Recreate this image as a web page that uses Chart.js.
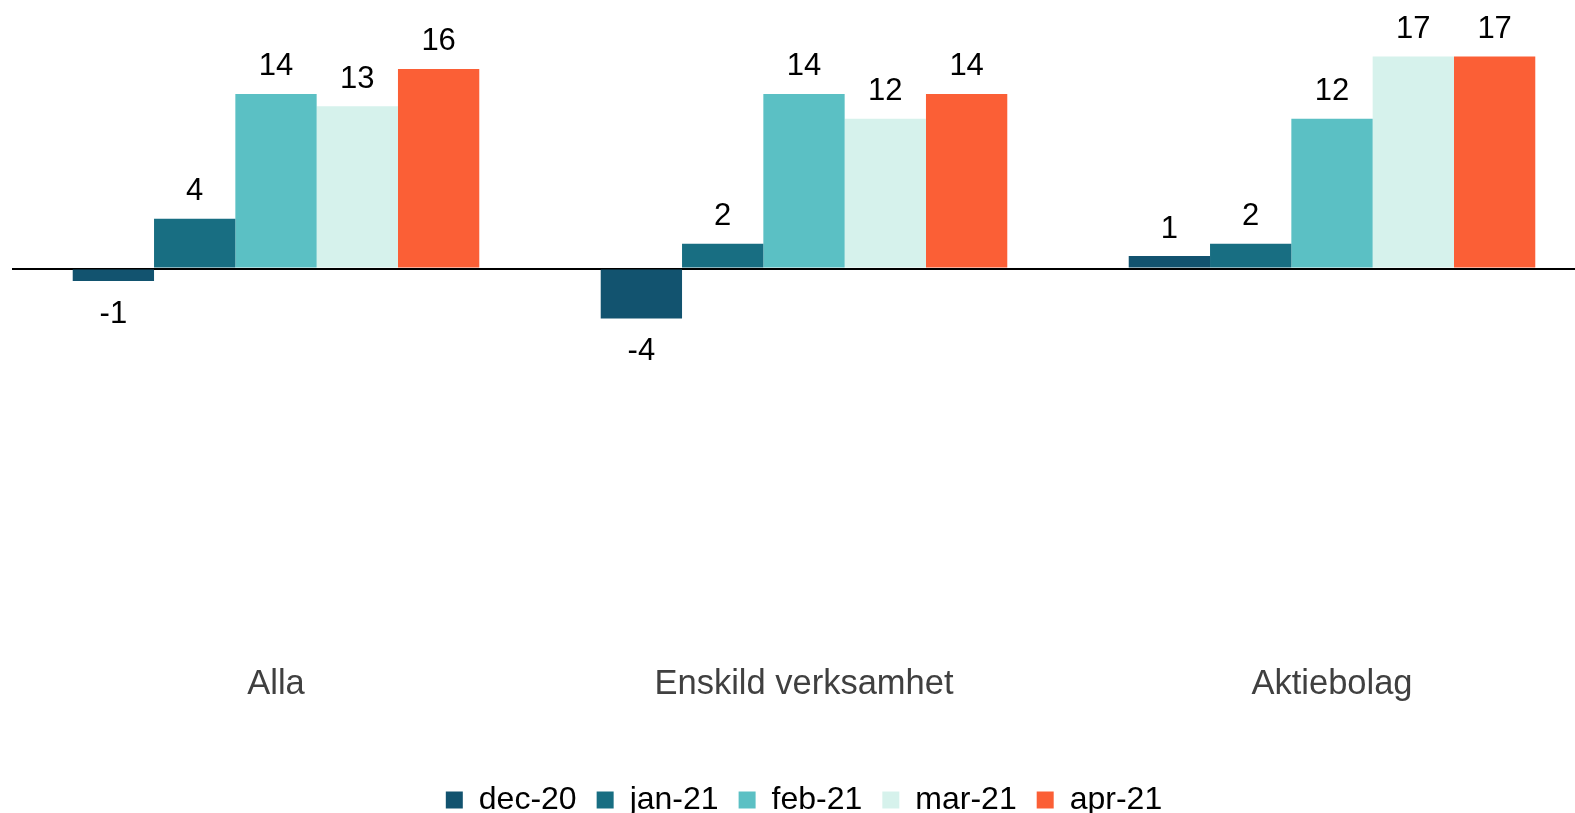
<!DOCTYPE html>
<html>
<head>
<meta charset="utf-8">
<script src="https://cdn.jsdelivr.net/npm/chart.js@4/dist/chart.umd.min.js"></script>
<style>
  html, body { margin: 0; padding: 0; background: #fff; overflow: hidden; }
  #wrap { width: 1610px; height: 826px; }
</style>
</head>
<body>
<div id="wrap"><canvas id="grafico"></canvas></div>
<script>
// kategorier och serier
const kategorier = ['Alla', 'Enskild verksamhet', 'Aktiebolag'];
const serier = ['dec-20', 'jan-21', 'feb-21', 'mar-21', 'apr-21'];
const dec20 = [-1, -4, 1];
const jan21 = [4, 2, 2];
const feb21 = [14, 14, 12];
const mar21 = [13, 12, 17];
const apr21 = [16, 14, 17];
const farger = ['#12536f', '#186e82', '#5bc0c4', '#d6f2ec', '#fb5f36'];

const varden = [dec20, jan21, feb21, mar21, apr21];
const typsnitt = '"Liberation Sans", Arial, sans-serif';

// etiketter ovanfor/under staplarna
const vardeEtiketter = {
  id: 'vardeEtiketter',
  afterDatasetsDraw(chart) {
    const ctx = chart.ctx;
    ctx.save();
    ctx.font = '31px ' + typsnitt;
    ctx.fillStyle = '#000';
    ctx.textAlign = 'center';
    ctx.textBaseline = 'middle';
    chart.data.datasets.forEach((ds, i) => {
      const meta = chart.getDatasetMeta(i);
      meta.data.forEach((bar, j) => {
        const v = ds.data[j];
        const y = v >= 0 ? bar.y - 27 : bar.y + 33;
        ctx.fillText(String(v), bar.x, y);
      });
    });
    ctx.restore();
  }
};

new Chart(document.getElementById('grafico'), {
  type: 'bar',
  data: {
    labels: kategorier,
    datasets: serier.map((namn, i) => ({
      label: namn,
      data: varden[i],
      backgroundColor: farger[i],
      borderWidth: 0,
      categoryPercentage: 0.77,
      barPercentage: 1
    }))
  },
  options: {
    responsive: true,
    maintainAspectRatio: false,
    animation: false,
    layout: { padding: { top: 19, left: 12, right: 14, bottom: 0 } },
    plugins: {
      tooltip: { enabled: false },
      legend: {
        position: 'bottom',
        labels: {
          font: { family: typsnitt, size: 32 },
          color: '#000',
          boxWidth: 17,
          boxHeight: 17,
          padding: 20
        }
      }
    },
    scales: {
      x: {
        grid: { display: false },
        border: { display: false },
        ticks: {
          font: { family: typsnitt, size: 34.5 },
          color: '#404040',
          padding: 13
        },
        afterFit: (scale) => { scale.height = 121; }
      },
      y: {
        min: -30,
        max: 20,
        ticks: { display: false, stepSize: 5 },
        border: { display: false },
        grid: {
          drawTicks: false,
          lineWidth: 2,
          color: (c) => (c.tick && c.tick.value === 0 ? '#000' : 'rgba(0,0,0,0)')
        }
      }
    }
  },
  plugins: [vardeEtiketter]
});
</script>
</body>
</html>
